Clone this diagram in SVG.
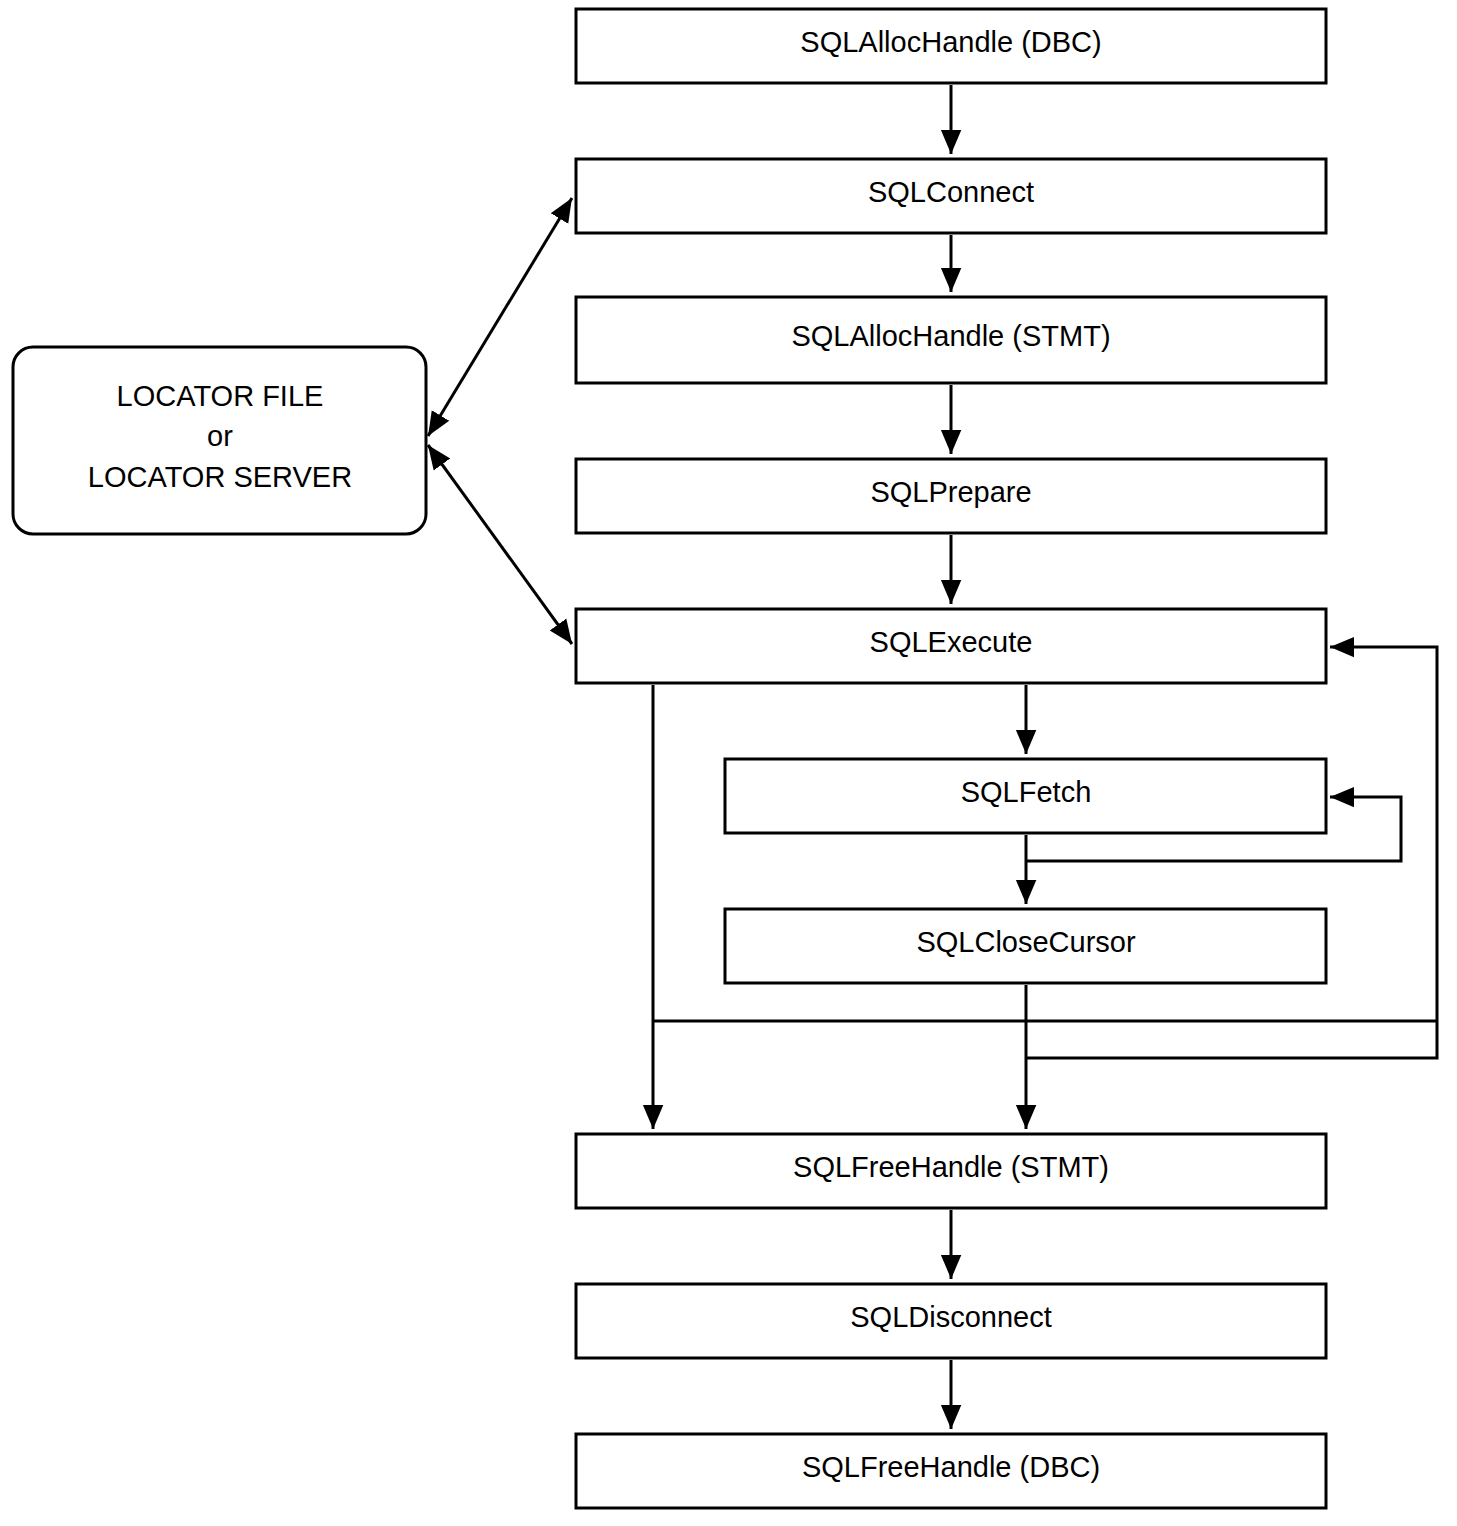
<svg xmlns="http://www.w3.org/2000/svg" width="1457" height="1526" viewBox="0 0 1457 1526">
<style>
.b{fill:#fff;stroke:#000;stroke-width:3}
text{font-family:"Liberation Sans",Arial,sans-serif;font-size:29px;text-anchor:middle;fill:#000}
.c{fill:none;stroke:#000;stroke-width:3}
</style>
<defs><marker id="a" viewBox="0 0 10 10" refX="10" refY="5" markerWidth="8" markerHeight="12" markerUnits="userSpaceOnUse" orient="auto-start-reverse"><path d="M0,0L10,5L0,10z"/></marker>
<marker id="m" viewBox="0 0 24 24" refX="24" refY="12" markerWidth="24" markerHeight="24" markerUnits="userSpaceOnUse" orient="auto-start-reverse"><path d="M0,0L24,12L0,24z" transform="scale(1,0.85) translate(0,2)"/></marker></defs>
<rect width="1457" height="1526" fill="#fff"/>
<g id="connectors" class="c">
<path d="M951,85V154" marker-end="url(#m)"/>
<path d="M951,235V292" marker-end="url(#m)"/>
<path d="M951,385V454" marker-end="url(#m)"/>
<path d="M951,535V604" marker-end="url(#m)"/>
<path d="M1026,685V754" marker-end="url(#m)"/>
<path d="M1026,835V904" marker-end="url(#m)"/>
<path d="M1026,861H1401V797H1330" marker-end="url(#m)"/>
<path d="M653,685V1129" marker-end="url(#m)"/>
<path d="M1026,985V1129" marker-end="url(#m)"/>
<path d="M653,1021H1437"/>
<path d="M1026,1058H1437V647H1330" marker-end="url(#m)"/>
<path d="M951,1210V1279" marker-end="url(#m)"/>
<path d="M951,1360V1429" marker-end="url(#m)"/>
<path d="M428,436L572,198" marker-start="url(#m)" marker-end="url(#m)"/>
<path d="M428,445L572,644" marker-start="url(#m)" marker-end="url(#m)"/>
</g>
<g id="n1"><rect class="b" x="576" y="9" width="750" height="74"/><text x="951" y="52">SQLAllocHandle (DBC)</text></g>
<g id="n2"><rect class="b" x="576" y="159" width="750" height="74"/><text x="951" y="202">SQLConnect</text></g>
<g id="n3"><rect class="b" x="576" y="297" width="750" height="86"/><text x="951" y="346">SQLAllocHandle (STMT)</text></g>
<g id="n4"><rect class="b" x="576" y="459" width="750" height="74"/><text x="951" y="502">SQLPrepare</text></g>
<g id="n5"><rect class="b" x="576" y="609" width="750" height="74"/><text x="951" y="652">SQLExecute</text></g>
<g id="n6"><rect class="b" x="725" y="759" width="601" height="74"/><text x="1026" y="802">SQLFetch</text></g>
<g id="n7"><rect class="b" x="725" y="909" width="601" height="74"/><text x="1026" y="952">SQLCloseCursor</text></g>
<g id="n8"><rect class="b" x="576" y="1134" width="750" height="74"/><text x="951" y="1177">SQLFreeHandle (STMT)</text></g>
<g id="n9"><rect class="b" x="576" y="1284" width="750" height="74"/><text x="951" y="1327">SQLDisconnect</text></g>
<g id="n10"><rect class="b" x="576" y="1434" width="750" height="74"/><text x="951" y="1477">SQLFreeHandle (DBC)</text></g>
<g id="loc"><rect class="b" x="13" y="347" width="413" height="187" rx="20"/><text x="220" y="406">LOCATOR FILE</text><text x="220" y="446">or</text><text x="220" y="487">LOCATOR SERVER</text></g>
</svg>
